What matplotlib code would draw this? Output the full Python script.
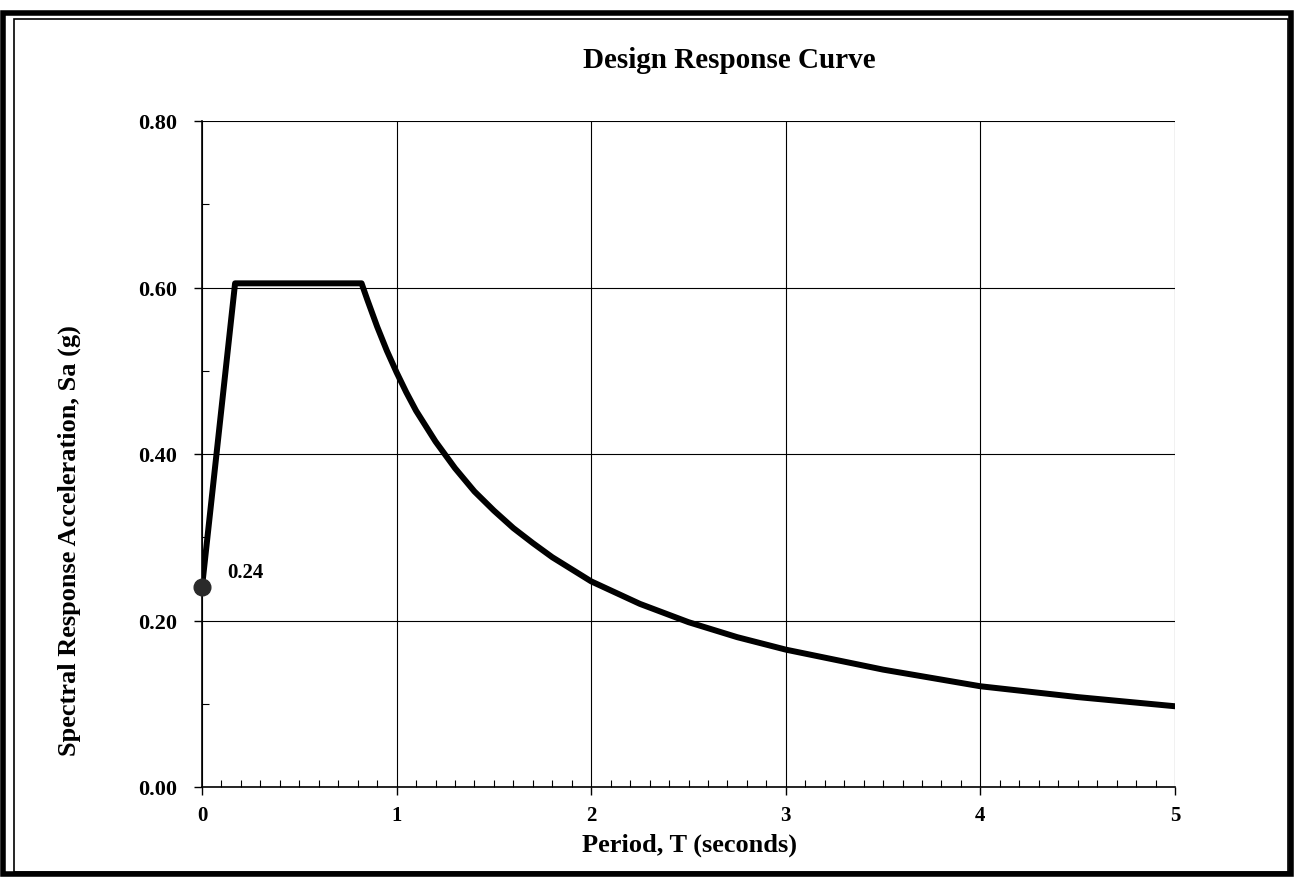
import matplotlib
matplotlib.use("Agg")
import matplotlib.pyplot as plt
from matplotlib.patches import Rectangle
from matplotlib.ticker import MultipleLocator

# Data
period_T = [0.0, 0.17, 0.82, 0.85, 0.9, 0.95, 1.0, 1.05, 1.1, 1.2, 1.3, 1.4,
            1.5, 1.6, 1.7, 1.8, 2.0, 2.25, 2.5, 2.75, 3.0, 3.5, 4.0, 4.5, 5.0]
sa_g = [0.24, 0.605, 0.605, 0.585, 0.553, 0.524, 0.498, 0.474, 0.452, 0.415,
        0.383, 0.355, 0.332, 0.311, 0.293, 0.276, 0.247, 0.220, 0.198, 0.180,
        0.165, 0.141, 0.121, 0.108, 0.097]
x_ticks = [0, 1, 2, 3, 4, 5]
y_ticks = [0.0, 0.2, 0.4, 0.6, 0.8]
y_tick_labels = ["0.00", "0.20", "0.40", "0.60", "0.80"]
start_label = "0.24"
title = "Design Response Curve"
x_label = "Period, T (seconds)"
y_label = "Spectral Response Acceleration, Sa (g)"

plt.rcParams['font.family'] = ['Liberation Serif', 'DejaVu Serif']
plt.rcParams['font.weight'] = 'bold'

W, H = 1296, 879
fig = plt.figure(figsize=(W / 100, H / 100), dpi=100)
ax = fig.add_axes([202 / W, (H - 788) / H, 973 / W, 666 / H])

ax.plot(period_T, sa_g, color='black', lw=4.3, solid_joinstyle='round', zorder=3)
ax.plot(period_T[0], sa_g[0], 'o', color='#2a2a2a', ms=12, zorder=4, clip_on=False)
ax.annotate(start_label, (period_T[0], sa_g[0]), xytext=(18, 7),
            textcoords='offset points', fontsize=15, fontweight='bold',
            va='baseline')

ax.set_xlim(0, 5)
ax.set_ylim(0, 0.8)
ax.set_xticks(x_ticks)
ax.set_yticks(y_ticks)
ax.set_yticklabels(y_tick_labels)
ax.xaxis.set_minor_locator(MultipleLocator(0.1))
ax.yaxis.set_minor_locator(MultipleLocator(0.1))
ax.tick_params(axis='both', which='major', direction='out', length=6, width=1)
ax.tick_params(axis='x', which='major', labelsize=15, pad=7)
ax.tick_params(axis='y', which='major', labelsize=16, pad=12)
ax.tick_params(axis='both', which='minor', direction='in', length=5, width=0.8)
for lab in ax.get_xticklabels() + ax.get_yticklabels():
    lab.set_fontweight('bold')

ax.grid(True, which='major', color='black', lw=0.8)
for s in ['top', 'right']:
    ax.spines[s].set_visible(False)
ax.spines['left'].set_linewidth(1.2)
ax.spines['bottom'].set_linewidth(1.2)

# Title and axis labels placed like the reference
fig.text(729 / W, 1 - 60 / H, title, fontsize=21, fontweight='bold',
         ha='center', va='center')
fig.text(690 / W, 1 - 845 / H, x_label, fontsize=19, fontweight='bold',
         ha='center', va='center')
fig.text(69 / W, 1 - 541 / H, y_label, fontsize=19, fontweight='bold',
         ha='center', va='center', rotation=90)

# Outer frame
fig.patches.append(Rectangle((3 / W, 4 / H), (W - 8) / W, (H - 18) / H,
                             transform=fig.transFigure, fill=False,
                             edgecolor='black', lw=4))
fig.patches.append(Rectangle((14 / W, 6 / H), (W - 22) / W, (H - 26) / H,
                             transform=fig.transFigure, fill=False,
                             edgecolor='black', lw=1.2))

fig.savefig("out.png", dpi=100)
